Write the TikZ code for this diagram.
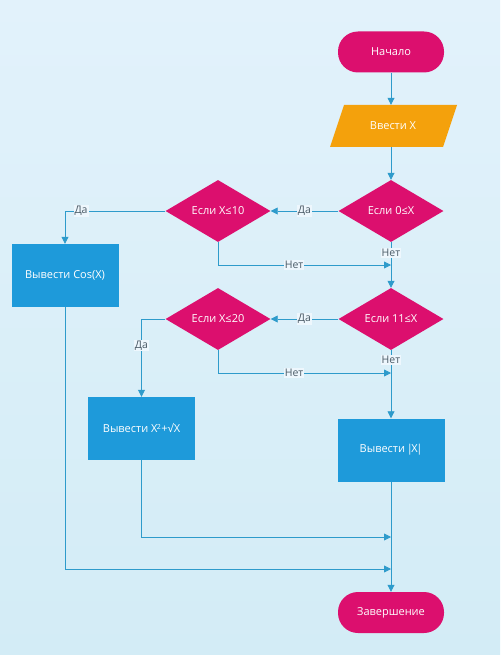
\documentclass[tikz,border=0pt]{standalone}
\usepackage{fontspec}
\setmainfont{Open Sans}
\usetikzlibrary{shapes.geometric,arrows.meta}
\definecolor{bgA}{HTML}{E2F2FB}
\definecolor{bgB}{HTML}{D3ECF6}
\definecolor{mag}{HTML}{DC0F6E}
\definecolor{org}{HTML}{F4A10C}
\definecolor{blu}{HTML}{1E9ADA}
\definecolor{lin}{HTML}{2E9BCB}
\definecolor{lbl}{HTML}{4A5A66}
\tikzset{
  base/.style={text=white,font=\fontsize{11}{13}\selectfont,inner sep=0pt},
  term/.style={base,fill=mag,rounded corners=20pt,minimum width=106pt,minimum height=41pt},
  io/.style={base,minimum width=126pt,minimum height=42pt},
  dec/.style={base,fill=mag,diamond,minimum width=105pt,minimum height=62pt},
  proc/.style={base,fill=blu,minimum width=107pt,minimum height=63pt},
  conn/.style={draw=lin,line width=0.8pt,-{Triangle[length=7pt,width=7pt]}},
  lab/.style={fill=bgA!60!white,text=lbl,font=\fontsize{10.5}{12}\selectfont,inner sep=1pt}
}
\begin{document}
\begin{tikzpicture}[x=1pt,y=-1pt]
\useasboundingbox (0,0) rectangle (500,655);
\shade[top color=bgA,bottom color=bgB] (0,0) rectangle (500,655);
\node[term] (start) at (391,52) {Начало};
\fill[org] (344,105) -- (457,105) -- (443,147) -- (330,147) -- cycle;
\node[io] (input) at (393,126) {Ввести X};
\node[dec] (d1) at (391,211) {Если 0≤X};
\node[dec] (d2) at (218,211) {Если X≤10};
\node[proc] (cos) at (65,275.5) {Вывести Cos(X)};
\node[dec] (d3) at (391,319) {Если 11≤X};
\node[dec] (d4) at (218,319) {Если X≤20};
\node[proc] (sq) at (141.5,428.5) {Вывести X\textsuperscript{\kern-0.5pt\scriptsize 2}+√X};
\node[proc] (abs) at (391,450) {Вывести\kern-1pt\ |\kern-1.5pt X\kern-1.5pt|};
\node[term] (end) at (391,612.5) {Завершение};
\coordinate (m1) at (391,265);
\coordinate (m2) at (391,373);
\coordinate (m3) at (391,537);
\coordinate (m4) at (391,569);
\draw[conn] (start) -- (start|-input.north);
\draw[conn] (start|-input.south) -- (d1);
\draw[conn] (d1) -- node[lab]{Да} (d2);
\draw[conn] (d2.west) -| node[lab,pos=0.42]{Да} (cos.north);
\draw[conn] (d2.south) |- node[lab,pos=0.72]{Нет} (m1);
\draw[conn] (d1.south) -- (d3.north);
\node[lab] at (391,253) {Нет};
\draw[conn] (d3) -- node[lab]{Да} (d4);
\draw[conn] (d4.west) -| node[lab,pos=0.67]{Да} (sq.north);
\draw[conn] (d4.south) |- node[lab,pos=0.72]{Нет} (m2);
\draw[conn] (d3.south) -- (abs.north);
\node[lab] at (391,360) {Нет};
\draw[conn] (abs.south) -- (end.north);
\draw[conn] (sq.south) |- (m3);
\draw[conn] (cos.south) |- (m4);
\end{tikzpicture}
\end{document}
